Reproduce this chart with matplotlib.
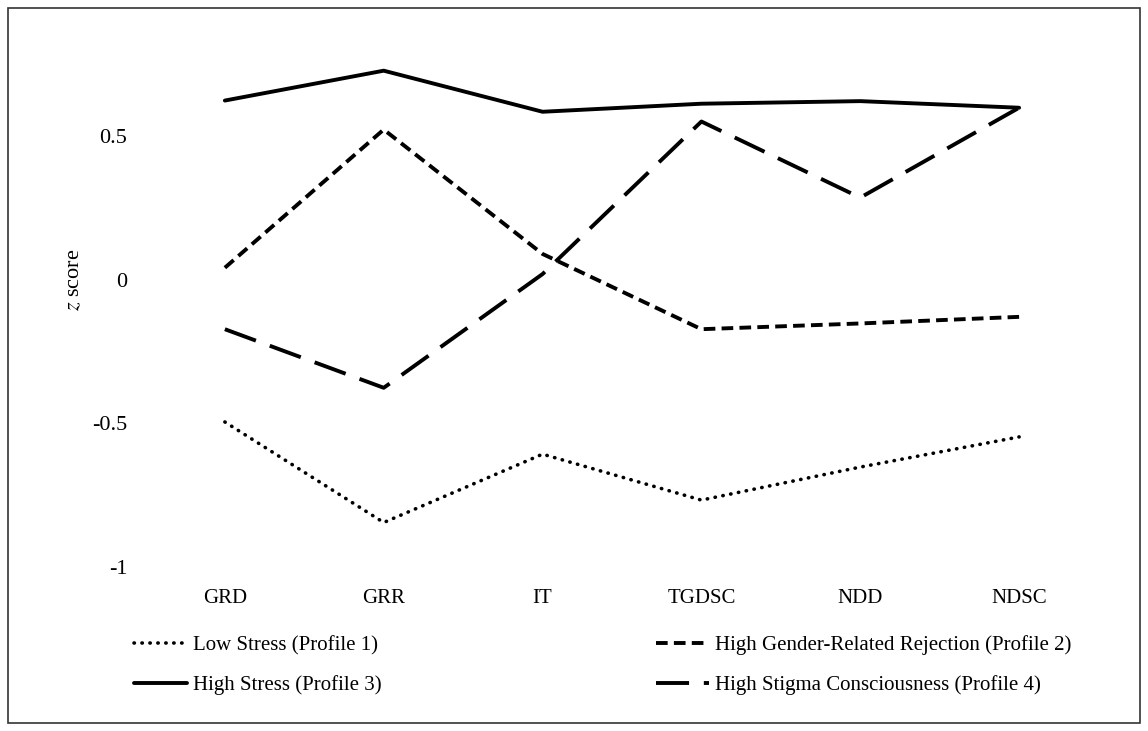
import matplotlib
matplotlib.use("Agg")
import matplotlib.pyplot as plt
from matplotlib.patches import Rectangle

plt.rcParams["font.family"] = ["Liberation Serif", "DejaVu Serif"]
plt.rcParams["mathtext.fontset"] = "stix"

categories = ["GRD", "GRR", "IT", "TGDSC", "NDD", "NDSC"]

low_stress = [-0.495, -0.845, -0.607, -0.767, -0.652, -0.547]
high_rejection = [0.042, 0.523, 0.09, -0.172, -0.152, -0.129]
high_stress = [0.624, 0.728, 0.585, 0.613, 0.622, 0.599]
high_stigma = [-0.172, -0.376, 0.02, 0.551, 0.286, 0.599]

y_ticks = [-1, -0.5, 0, 0.5]
y_tick_labels = ["-1", "-0.5", "0", "0.5"]

fig = plt.figure(figsize=(11.48, 7.31), dpi=100)
ax = fig.add_axes([0.1267, 0.2243, 0.8302, 0.7073])

x = range(len(categories))
lw = 2.8

l1, = ax.plot(x, low_stress, color="black", lw=2.6,
              linestyle=(0, (0.1, 2.1)), dash_capstyle="round",
              label="Low Stress (Profile 1)")
l2, = ax.plot(x, high_rejection, color="black", lw=lw,
              linestyle=(0, (3.0, 1.6)), dash_capstyle="butt",
              label="High Gender-Related Rejection (Profile 2)")
l3, = ax.plot(x, high_stress, color="black", lw=lw,
              solid_capstyle="round",
              label="High Stress (Profile 3)")
l4, = ax.plot(x, high_stigma, color="black", lw=lw,
              linestyle=(0, (8.5, 3.8)), dash_capstyle="butt",
              label="High Stigma Consciousness (Profile 4)")

ax.set_xlim(-0.5, len(categories) - 0.5)
ax.set_ylim(-1, 0.8)
ax.set_xticks(list(x))
ax.set_xticklabels(categories, fontsize=15)
ax.set_yticks(y_ticks)
ax.set_yticklabels(y_tick_labels, fontsize=16)
ax.tick_params(axis="x", length=0, pad=16)
ax.tick_params(axis="y", length=0, pad=13)
for s in ax.spines.values():
    s.set_visible(False)

ax.set_ylabel(r"$z$ score", fontsize=16)
ax.yaxis.set_label_coords(-0.064, 0.556)

fig.legend([l1, l3, l2, l4],
           [l1.get_label(), l3.get_label(), l2.get_label(), l4.get_label()],
           ncol=2, frameon=False, fontsize=15,
           loc="upper left", bbox_to_anchor=(0.117, 0.131),
           handlelength=2.55, handletextpad=0.25,
           columnspacing=13.2, labelspacing=0.95,
           borderpad=0, borderaxespad=0)

fig.patches.append(Rectangle((8 / 1148, 8 / 731), 1132 / 1148, 715 / 731,
                             transform=fig.transFigure, fill=False,
                             edgecolor="#333333", lw=1.2))

fig.savefig("out.png", dpi=100)
